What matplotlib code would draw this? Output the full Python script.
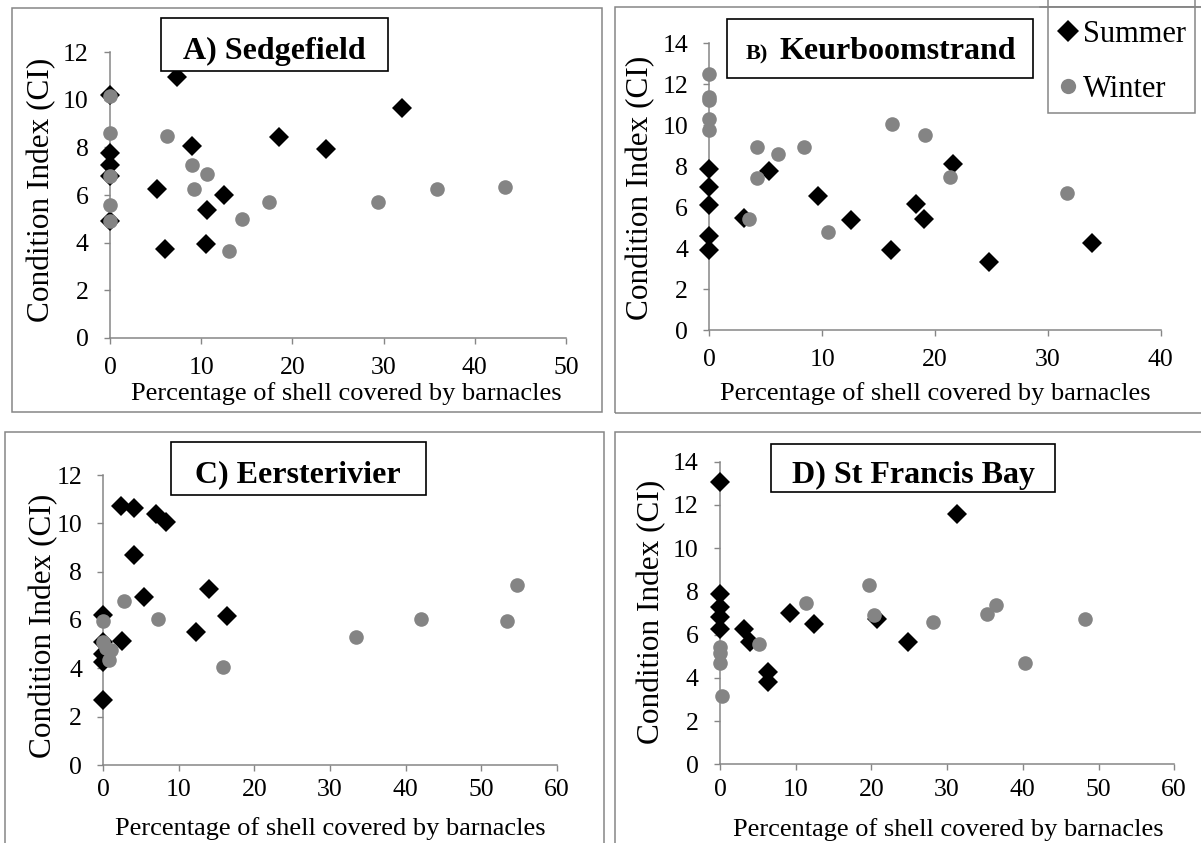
import matplotlib
matplotlib.use("Agg")
import matplotlib.pyplot as plt
from matplotlib.patches import Rectangle
from matplotlib.lines import Line2D

# ---------------- data ----------------
sites = ["A) Sedgefield", "B) Keurboomstrand", "C) Eersterivier", "D) St Francis Bay"]

sed_summer_x = [0, 0, 0, 0, 0, 7.3, 5.2, 6.0, 9.0, 10.6, 10.5, 12.5, 18.5, 23.7, 32.0]
sed_summer_y = [10.2, 7.75, 7.25, 6.8, 4.9, 10.95, 6.25, 3.75, 8.05, 5.35, 3.95, 6.0, 8.45, 7.95, 9.65]
sed_winter_x = [0, 0, 0, 0, 0, 6.3, 9.0, 9.2, 10.6, 13.0, 14.5, 17.4, 29.4, 35.9, 43.3]
sed_winter_y = [10.15, 8.6, 6.8, 5.6, 4.9, 8.5, 7.25, 6.25, 6.9, 3.65, 5.0, 5.7, 5.7, 6.25, 6.35]

keu_summer_x = [0, 0, 0, 0, 0, 3.1, 5.3, 9.6, 12.6, 16.1, 18.3, 19.0, 21.6, 24.8, 33.9]
keu_summer_y = [7.85, 7.0, 6.1, 4.6, 3.9, 5.45, 7.75, 6.55, 5.35, 3.9, 6.15, 5.4, 8.1, 3.3, 4.25]
keu_winter_x = [0, 0, 0, 0, 0, 3.5, 4.2, 4.2, 6.1, 8.4, 10.5, 16.2, 19.1, 21.3, 31.7]
keu_winter_y = [12.5, 11.4, 11.25, 10.3, 9.75, 5.4, 8.95, 7.4, 8.6, 8.95, 4.8, 10.05, 9.5, 7.45, 6.7]

eer_summer_x = [0, 0, 0, 0, 0, 2.3, 4.0, 7.0, 8.3, 4.0, 2.5, 5.4, 12.3, 14.0, 16.4]
eer_summer_y = [6.2, 5.1, 4.6, 4.25, 2.7, 10.7, 10.65, 10.4, 10.05, 8.7, 5.15, 6.95, 5.5, 7.3, 6.15]
eer_winter_x = [0, 0, 0.3, 0.8, 1.0, 2.7, 7.2, 15.8, 33.4, 42.0, 53.4, 54.7]
eer_winter_y = [5.95, 5.1, 4.85, 4.35, 4.75, 6.8, 6.05, 4.05, 5.3, 6.05, 5.95, 7.45]

stf_summer_x = [0, 0, 0, 0, 0, 3.2, 4.0, 6.3, 6.3, 9.3, 12.4, 20.7, 24.9, 31.3]
stf_summer_y = [13.05, 7.9, 7.3, 6.8, 6.25, 6.25, 5.65, 4.25, 3.8, 7.0, 6.5, 6.7, 5.65, 11.6]
stf_winter_x = [0, 0, 0, 0.3, 5.2, 11.3, 19.7, 20.4, 28.2, 35.3, 36.5, 40.3, 48.2]
stf_winter_y = [5.45, 5.15, 4.7, 3.15, 5.55, 7.45, 8.3, 6.9, 6.6, 6.95, 7.35, 4.7, 6.7]

x_max = [50, 40, 60, 60]
y_max = [12, 14, 12, 14]
x_step = 10
y_step = 2

series_labels = ["Summer", "Winter"]
x_title = "Percentage of shell covered by barnacles"
y_title = "Condition Index (CI)"

summer_x = [sed_summer_x, keu_summer_x, eer_summer_x, stf_summer_x]
summer_y = [sed_summer_y, keu_summer_y, eer_summer_y, stf_summer_y]
winter_x = [sed_winter_x, keu_winter_x, eer_winter_x, stf_winter_x]
winter_y = [sed_winter_y, keu_winter_y, eer_winter_y, stf_winter_y]

# ---------------- layout (pixels) ----------------
W, H = 1201, 843
FONT = "Liberation Serif"
GRAY = "#868686"
WINTER_C = "#848484"

plt.rcParams["font.family"] = [FONT, "DejaVu Serif"]

fig = plt.figure(figsize=(W / 100, H / 100), dpi=100)


def fx(x):
    return x / W


def fy(y):
    return 1 - y / H


# axes rectangles: (left px, right px, top px, bottom px)
axes_px = [
    (110, 566, 52.3, 337.7),
    (709.2, 1160.7, 43.3, 330),
    (103.3, 556.8, 475, 765),
    (720, 1174.2, 461.7, 764.3),
]
x_tick_pad = [9.5, 9.5, 5.5, 6]
# outer panel borders: (x0, y0, x1, y1)
panel_px = [
    (12, 8, 602, 412),
    (615, 7, 1210, 413),
    (5, 432, 604, 860),
    (615, 432, 1210, 860),
]
# title boxes (x0, y0, x1, y1) and text baseline
title_px = [
    (161, 18, 388, 71, 58.5),
    (726.5, 19, 1033, 78, 59),
    (171, 442, 425.6, 495, 482),
    (771, 444, 1055, 492, 483.5),
]
xlabel_px = [(346, 400), (935, 400), (330, 835), (948, 836)]
ylabel_px = [(42, 190), (641, 188), (44, 626), (652, 612)]

for (x0, y0, x1, y1) in panel_px:
    fig.add_artist(Rectangle((fx(x0), fy(y1)), fx(x1) - fx(x0), fy(y0) - fy(y1),
                             transform=fig.transFigure, fill=False,
                             edgecolor=GRAY, linewidth=1.1, zorder=0))

axes = []
for i in range(4):
    l, r, t, b = axes_px[i]
    ax = fig.add_axes([fx(l), fy(b), fx(r) - fx(l), fy(t) - fy(b)])
    ax.set_facecolor("none")
    ax.set_xlim(0, x_max[i])
    ax.set_ylim(0, y_max[i])
    ax.set_xticks(range(0, x_max[i] + 1, x_step))
    ax.set_yticks(range(0, y_max[i] + 1, y_step))
    for s in ["top", "right"]:
        ax.spines[s].set_visible(False)
    for s in ["left", "bottom"]:
        ax.spines[s].set_color(GRAY)
        ax.spines[s].set_linewidth(1.1)
    ax.tick_params(axis="x", direction="out", length=4.3, width=1.0, color=GRAY,
                   pad=x_tick_pad[i], labelsize=18.5, labelcolor="black")
    ax.tick_params(axis="y", direction="out", length=4.3, width=1.0, color=GRAY,
                   pad=11, labelsize=18.5, labelcolor="black")

    hs = ax.plot(summer_x[i], summer_y[i], linestyle="none", marker="D",
                 markersize=10, color="black", markeredgewidth=0,
                 clip_on=False, zorder=3, label=series_labels[0])[0]
    hw = ax.plot(winter_x[i], winter_y[i], linestyle="none", marker="o",
                 markersize=10.5, color=WINTER_C, markeredgewidth=0,
                 clip_on=False, zorder=4, label=series_labels[1])[0]
    axes.append((ax, hs, hw))

    # axis titles
    fig.text(fx(xlabel_px[i][0]), fy(xlabel_px[i][1]), x_title, ha="center",
             va="baseline", fontsize=19)
    fig.text(fx(ylabel_px[i][0]), fy(ylabel_px[i][1]), y_title, ha="center",
             va="center", rotation=90, fontsize=22.5)

    # title box
    x0, y0, x1, y1, base = title_px[i]
    fig.add_artist(Rectangle((fx(x0), fy(y1)), fx(x1) - fx(x0), fy(y0) - fy(y1),
                             transform=fig.transFigure, facecolor="white",
                             edgecolor="black", linewidth=1.2, zorder=5))
    if i == 1:
        letter, name = sites[i].split(" ", 1)
        fig.text(fx(745.6), fy(base), letter, ha="left", va="baseline",
                 fontsize=16, fontweight="bold", zorder=6)
        fig.text(fx(779.4), fy(base), name, ha="left", va="baseline",
                 fontsize=23, fontweight="bold", zorder=6)
    else:
        fig.text(fx((x0 + x1) / 2), fy(base), sites[i], ha="center",
                 va="baseline", fontsize=23, fontweight="bold", zorder=6)

# legend in panel B (box drawn from the panel's top border down)
fig.add_artist(Rectangle((fx(1048), fy(113)), fx(1195) - fx(1048), fy(7) - fy(113),
                         transform=fig.transFigure, facecolor="white",
                         edgecolor=GRAY, linewidth=1.1, zorder=5))
fig.add_artist(Line2D([fx(1040), fx(1201)], [fy(7), fy(7)], transform=fig.transFigure,
                      color=GRAY, linewidth=1.1, zorder=5.5))
fig.add_artist(Line2D([fx(1048), fx(1048)], [fy(0), fy(7)], transform=fig.transFigure,
                      color=GRAY, linewidth=1.1, zorder=5.5))
fig.add_artist(Line2D([fx(1195), fx(1195)], [fy(0), fy(7)], transform=fig.transFigure,
                      color=GRAY, linewidth=1.1, zorder=5.5))
leg_handles = [
    Line2D([], [], linestyle="none", marker="D", markersize=11, color="black",
           markeredgewidth=0),
    Line2D([], [], linestyle="none", marker="o", markersize=11, color=WINTER_C,
           markeredgewidth=0),
]
leg = fig.legend(leg_handles, series_labels, loc="upper left",
                 bbox_to_anchor=(fx(1052.7), fy(20)), bbox_transform=fig.transFigure,
                 frameon=False, fontsize=22, handlelength=1.0, handletextpad=0.0,
                 borderpad=0, borderaxespad=0, labelspacing=0.85)
leg.set_zorder(7)

fig.savefig("out.png", dpi=100)
